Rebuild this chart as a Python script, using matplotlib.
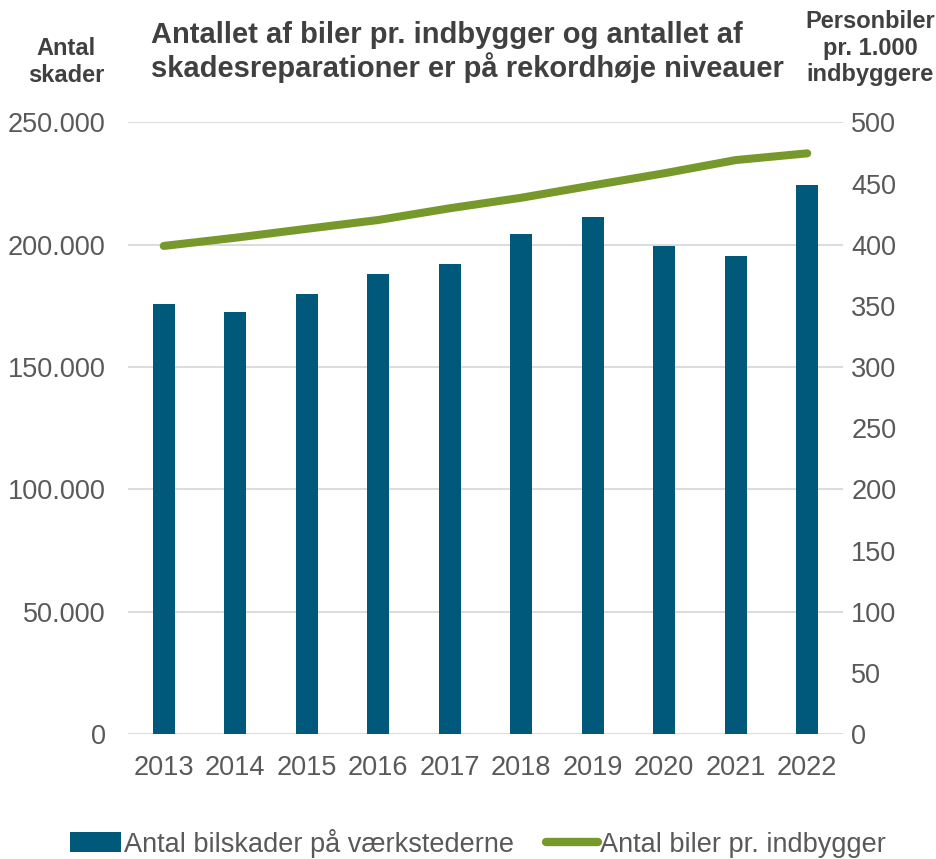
import matplotlib
matplotlib.use("Agg")
import matplotlib.pyplot as plt
from matplotlib.patches import Patch
from matplotlib.lines import Line2D

years = ["2013", "2014", "2015", "2016", "2017", "2018", "2019", "2020", "2021", "2022"]
skader = [175600, 172400, 179800, 188000, 192100, 204200, 211200, 199600, 195300, 224500]
biler_pr_1000 = [399.0, 405.7, 413.0, 420.2, 429.8, 438.4, 448.5, 458.4, 469.2, 474.7]

left_ticks = [0, 50000, 100000, 150000, 200000, 250000]
left_labels = ["0", "50.000", "100.000", "150.000", "200.000", "250.000"]
right_ticks = list(range(0, 501, 50))

BAR_COLOR = "#00587a"
LINE_COLOR = "#77992b"
TICK_COLOR = "#595959"
TITLE_COLOR = "#404040"
FS = 19.5

plt.rcParams["font.family"] = ["Liberation Sans", "DejaVu Sans"]

fig = plt.figure(figsize=(9.37, 8.59), dpi=100)
ax = fig.add_axes([128 / 937, 1 - 734 / 859, (843 - 128) / 937, (734 - 122.4) / 859])

x = list(range(len(years)))
ax.bar(x, skader, width=0.31, color=BAR_COLOR, zorder=2)
ax.set_xlim(-0.5, len(years) - 0.5)
ax.set_ylim(0, 250000)
ax.set_yticks(left_ticks)
ax.set_yticklabels(left_labels)
ax.set_xticks(x)
ax.set_xticklabels(years)
ax.yaxis.grid(True, color="#d9d9d9", linewidth=1.3, zorder=0)
ax.set_axisbelow(True)
for s in ax.spines.values():
    s.set_visible(False)
ax.tick_params(axis="both", length=0, labelsize=FS, colors=TICK_COLOR)
ax.tick_params(axis="y", pad=16)
ax.tick_params(axis="x", pad=15)

ax2 = ax.twinx()
ax2.plot(x, biler_pr_1000, color=LINE_COLOR, linewidth=5.8, solid_capstyle="round", zorder=3)
ax2.set_ylim(0, 500)
ax2.set_yticks(right_ticks)
for s in ax2.spines.values():
    s.set_visible(False)
ax2.tick_params(axis="y", length=0, labelsize=FS, colors=TICK_COLOR, pad=6)

fig.text(151 / 937, 1 - 52 / 859, "Antallet af biler pr. indbygger og antallet af\nskadesreparationer er på rekordhøje niveauer",
         ha="left", va="center", fontsize=21, fontweight="bold", color=TITLE_COLOR, linespacing=1.15)
fig.text(66 / 937, 1 - 62 / 859, "Antal\nskader", ha="center", va="center",
         fontsize=17, fontweight="bold", color=TITLE_COLOR, linespacing=1.2)
fig.text(870 / 937, 1 - 48 / 859, "Personbiler\npr. 1.000\nindbyggere", ha="center", va="center",
         fontsize=17, fontweight="bold", color=TITLE_COLOR, linespacing=1.2)

handles = [Patch(facecolor=BAR_COLOR, edgecolor="none"),
           Line2D([0], [0], color=LINE_COLOR, linewidth=6, solid_capstyle="round")]
labels = ["Antal bilskader på værkstederne", "Antal biler pr. indbygger"]
fig.legend(handles, labels, loc="center", bbox_to_anchor=(478 / 937, 1 - 843 / 859), ncol=2,
           frameon=False, fontsize=FS, handlelength=1.9, handleheight=0.75,
           handletextpad=0.1, columnspacing=1.2, labelcolor=TICK_COLOR,
           borderaxespad=0, borderpad=0)

fig.savefig("out.png", dpi=100)
